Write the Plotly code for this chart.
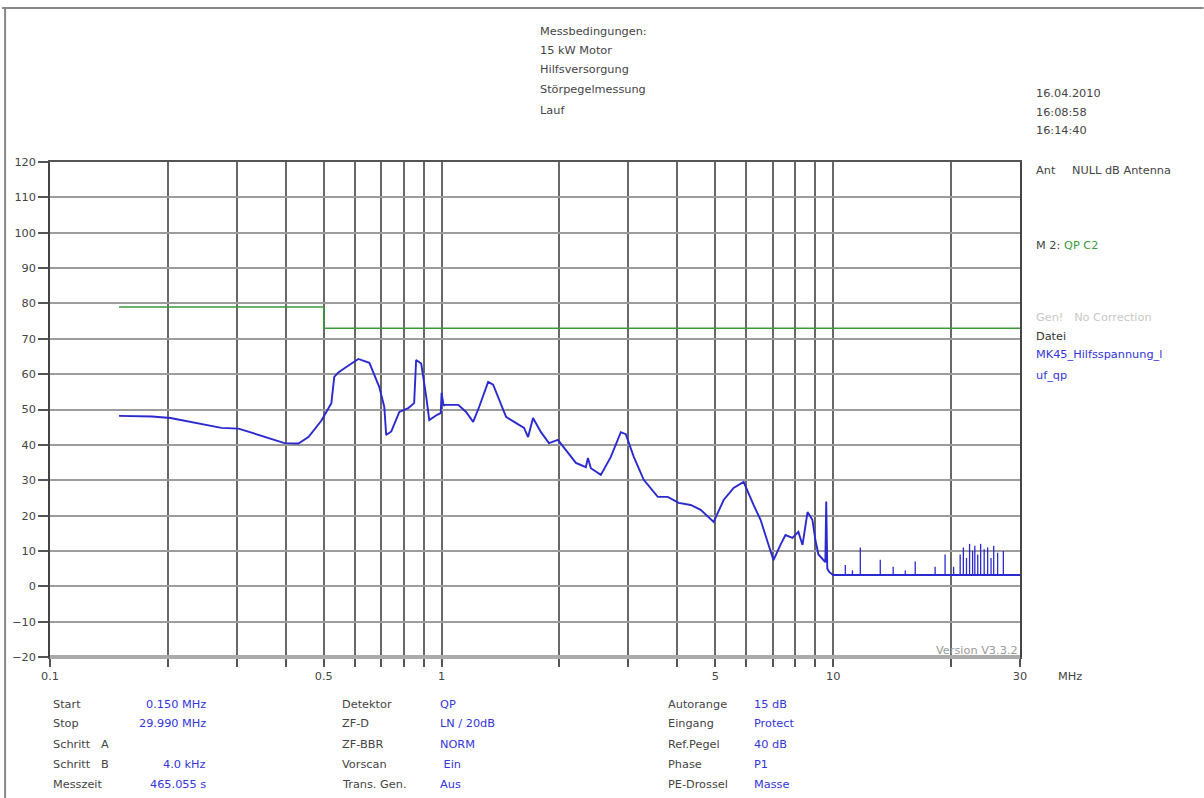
import plotly.graph_objects as go

# ---------------- data ----------------
freq_mhz = [0.15, 0.182, 0.203, 0.230, 0.274, 0.303, 0.341, 0.3745, 0.397, 0.431, 0.457, 0.493,
            0.523, 0.532, 0.545, 0.571, 0.613, 0.654, 0.693, 0.714, 0.722, 0.744, 0.78, 0.822,
            0.851, 0.861, 0.887, 0.914, 0.930, 0.974, 0.995, 1.0, 1.012, 1.018, 1.103, 1.155,
            1.204, 1.247, 1.315, 1.354, 1.419, 1.461, 1.532, 1.624, 1.663, 1.712, 1.794, 1.880,
            1.982, 2.102, 2.203, 2.336, 2.364, 2.406, 2.551, 2.705, 2.869, 2.954, 3.096, 3.283,
            3.565, 3.781, 4.032, 4.326, 4.588, 4.952, 5.252, 5.569, 5.905, 6.262, 6.525,
            6.84, 7.04, 7.335, 7.553, 7.87, 8.15, 8.35, 8.6, 8.85, 9.01,
            9.17, 9.55, 9.6, 9.66, 9.78, 10.0, 30.0]
level_dbuv = [48.2, 48.0, 47.6, 46.5, 44.8, 44.6, 42.8, 41.4, 40.5, 40.4, 42.2, 46.8,
              51.8, 59.2, 60.5, 62.0, 64.3, 63.2, 56.4, 50.7, 42.8, 43.8, 49.3, 50.4,
              51.8, 64.0, 63.0, 53.5, 47.0, 48.5, 49.0, 54.7, 51.0, 51.3, 51.3, 49.3,
              46.5, 50.7, 57.8, 57.0, 51.3, 47.9, 46.5, 44.8, 42.2, 47.6, 43.6, 40.5,
              41.4, 37.7, 34.9, 33.7, 36.3, 33.4, 31.5, 36.6, 43.6, 43.0, 36.6, 30.1,
              25.3, 25.3, 23.6, 23.0, 21.6, 18.2, 24.4, 27.8, 29.5, 23.0, 18.8,
              11.7, 7.4, 11.7, 14.5, 13.7, 15.4, 11.7, 21.0, 18.8, 13.0,
              9.0, 6.8, 24.0, 5.0, 4.0, 3.2, 3.2]

floor_dbuv = 3.2
spike_freq = [10.74, 11.2, 11.73, 13.19, 14.23, 15.28, 16.2, 18.21, 19.31, 20.3,
              21.1, 21.5, 21.9, 22.3, 22.7, 23.0, 23.4, 23.8, 24.3, 24.8, 25.3, 25.7, 26.3, 27.2]
spike_level = [6.0, 4.5, 11.0, 7.5, 5.5, 4.5, 7.0, 5.5, 9.0, 5.5,
               9.0, 11.0, 8.0, 12.0, 10.0, 11.5, 9.0, 12.0, 10.5, 11.0, 8.0, 11.5, 9.5, 10.0]

limit_freq = [0.15, 0.5, 0.5, 30.0]
limit_dbuv = [79.0, 79.0, 73.0, 73.0]

grid_freqs = [0.1, 0.2, 0.3, 0.4, 0.5, 0.6, 0.7, 0.8, 0.9, 1, 2, 3, 4, 5, 6, 7, 8, 9, 10, 20, 30]
grid_labels = ['0.1', '', '', '', '0.5', '', '', '', '', '1', '', '', '', '5', '', '', '', '', '10', '', '30']

# ---------------- figure ----------------
W, H = 1204, 798
L, R, T, B = 48, 1020, 162, 657
FONT = 'DejaVu Sans, Verdana, sans-serif'
FS = 11.3


def px(x):
    return (x - L) / (R - L)


def py(y):
    return (B - y) / (B - T)


spx, spy = [], []
for f, v in zip(spike_freq, spike_level):
    spx += [f, f, None]
    spy += [floor_dbuv, v, None]

fig = go.Figure()
fig.add_trace(go.Scatter(x=limit_freq, y=limit_dbuv, mode='lines',
                         line=dict(color='#3a9a3a', width=1.4), hoverinfo='skip'))
fig.add_trace(go.Scatter(x=freq_mhz, y=level_dbuv, mode='lines',
                         line=dict(color='#2a2ad0', width=1.9)))
fig.add_trace(go.Scatter(x=spx, y=spy, mode='lines',
                         line=dict(color='#2a2ad0', width=1.3)))

fig.update_layout(
    width=W, height=H, showlegend=False,
    margin=dict(l=L, r=W - R, t=T, b=H - B, pad=0),
    paper_bgcolor='white', plot_bgcolor='white',
    font=dict(family=FONT, size=FS, color='#444'),
    xaxis=dict(type='log', range=[-1, 1.4771], tickvals=grid_freqs, ticktext=grid_labels,
               showgrid=True, gridcolor='#686868', gridwidth=1.6, ticks='outside', ticklen=8,
               tickcolor='#555', tickwidth=1.5, showline=True, linecolor='#555', linewidth=1.5,
               mirror=True, zeroline=False, tickfont=dict(size=FS, color='#444')),
    yaxis=dict(range=[-20, 120], dtick=10, tick0=0, showgrid=True, gridcolor='#9c9c9c',
               gridwidth=1.8, ticks='outside', ticklen=10, tickcolor='#555', tickwidth=1.5,
               showline=True, linecolor='#444', linewidth=1.5, mirror=True, zeroline=False,
               tickfont=dict(size=FS, color='#444')),
)

# emphasised 1 MHz line, thick bottom line and frame
fig.add_shape(type='line', xref='x', yref='paper', x0=0, x1=0, y0=0, y1=1,
              line=dict(color='#333', width=2.2))
fig.add_shape(type='line', xref='paper', yref='paper', x0=0, x1=1, y0=0, y1=0,
              line=dict(color='#aaaaaa', width=4))
fig.add_shape(type='line', xref='paper', yref='paper', x0=px(0), x1=px(W), y0=py(8), y1=py(8),
              line=dict(color='#888', width=2))
fig.add_shape(type='line', xref='paper', yref='paper', x0=px(3), x1=px(3), y0=py(8), y1=py(H),
              line=dict(color='#888', width=2))


def txt(x, y, s, color='#444', anchor='left', size=FS):
    fig.add_annotation(x=px(x), y=py(y), xref='paper', yref='paper', text=s, showarrow=False,
                       xanchor=anchor, yanchor='middle', font=dict(size=size, color=color))


# header
for yy, s in zip([31, 50, 70, 90, 110],
                 ['Messbedingungen:', '15 kW Motor', 'Hilfsversorgung', 'Störpegelmessung', 'Lauf']):
    txt(537, yy, s)
for yy, s in zip([93, 112, 130], ['16.04.2010', '16:08:58', '16:14:40']):
    txt(1034, yy, s)
txt(1034, 170, 'Ant')
txt(1070, 170, 'NULL dB Antenna')
txt(1034, 245, 'M 2:')
txt(1062, 245, 'QP C2', color='#3a9a3a')
txt(1034, 317, 'Gen!   No Correction', color='#c8c8c8')
txt(1034, 336, 'Datei', color='#333')
txt(1034, 354, 'MK45_Hilfsspannung_l', color='#3333dd')
txt(1034, 375, 'uf_qp', color='#3333dd')
txt(1020, 650, 'Version V3.3.2', color='#999', anchor='right')
txt(1056, 676, 'MHz')

# bottom table
rows = [704, 723, 744, 764, 784]
col1_lab = ['Start', 'Stop', 'Schritt   A', 'Schritt   B', 'Messzeit']
col1_val = ['0.150 MHz', '29.990 MHz', '', '4.0 kHz', '465.055 s']
col2_lab = ['Detektor', 'ZF-D', 'ZF-BBR', 'Vorscan', 'Trans. Gen.']
col2_val = ['QP', 'LN / 20dB', 'NORM', ' Ein', 'Aus']
col3_lab = ['Autorange', 'Eingang', 'Ref.Pegel', 'Phase', 'PE-Drossel']
col3_val = ['15 dB', 'Protect', '40 dB', 'P1', 'Masse']
for i, yy in enumerate(rows):
    txt(49, yy, col1_lab[i])
    if col1_val[i]:
        txt(206, yy, col1_val[i], color='#3333dd', anchor='right')
    txt(339, yy, col2_lab[i])
    txt(437, yy, col2_val[i], color='#3333dd')
    txt(665, yy, col3_lab[i])
    txt(751, yy, col3_val[i], color='#3333dd')

fig.write_html('out.html')
